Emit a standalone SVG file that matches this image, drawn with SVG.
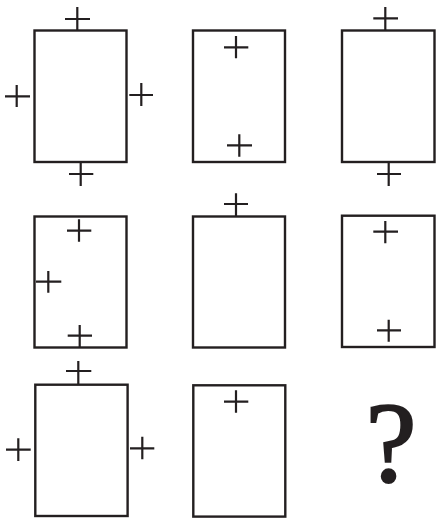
<svg xmlns="http://www.w3.org/2000/svg" width="436" height="519" viewBox="0 0 436 519">
<style>
.box{fill:#fff;stroke:#231f20;stroke-width:2.4}
.p{stroke:#231f20;stroke-width:2.2;fill:none}
.q{font-family:"Liberation Serif","Times New Roman",serif;font-size:114px;fill:#231f20;stroke:#231f20;stroke-width:2.2;text-anchor:middle}
</style>
<rect width="436" height="519" fill="#fff"/>
<g id="cell1">
<rect class="box" x="34.5" y="30.5" width="92" height="131.5"/>
<path class="p" d="M65 19H90M77.3 7V30.5M5 96.3H30M16.7 85V107M129.3 95H153M141.3 83V106M69 174H93.3M80.7 162V186"/>
</g>
<g id="cell2">
<rect class="box" x="193" y="30.5" width="92" height="131.5"/>
<path class="p" d="M224 47.3H248.3M236 36V58.3M227 145.3H252M239.3 134.3V156.7"/>
</g>
<g id="cell3">
<rect class="box" x="342" y="30.5" width="92.5" height="131.5"/>
<path class="p" d="M373.3 18.3H398M385.3 7V30.5M377 174H401M388.7 162V186"/>
</g>
<g id="cell4">
<rect class="box" x="34.5" y="216.5" width="92" height="131"/>
<path class="p" d="M67 230.7H91.3M79 219.3V241.7M36 281.7H61.3M48.3 271V292.7M67.7 335.7H92M79.7 325V347.5"/>
</g>
<g id="cell5">
<rect class="box" x="193" y="216.5" width="92" height="131"/>
<path class="p" d="M224 204H248M236 193.3V216.5"/>
</g>
<g id="cell6">
<rect class="box" x="342" y="215.7" width="92.5" height="131.3"/>
<path class="p" d="M373.3 231.7H398M385.3 221V243.3M377 330.3H401M388.7 319.7V341.7"/>
</g>
<g id="cell7">
<rect class="box" x="35.3" y="384.7" width="92.3" height="131.3"/>
<path class="p" d="M66 371H91.3M78.3 361V384.7M6 449.7H30.7M18.3 438.3V461M130 448.3H154.3M142.3 436.7V459.3"/>
</g>
<g id="cell8">
<rect class="box" x="193.3" y="385.3" width="92" height="131.3"/>
<path class="p" d="M224 401.7H248.3M236 390.3V412.7"/>
</g>
<g id="cell9">
<text class="q" x="391" y="481">?</text>
</g>
<g id="connectors"/>
</svg>
